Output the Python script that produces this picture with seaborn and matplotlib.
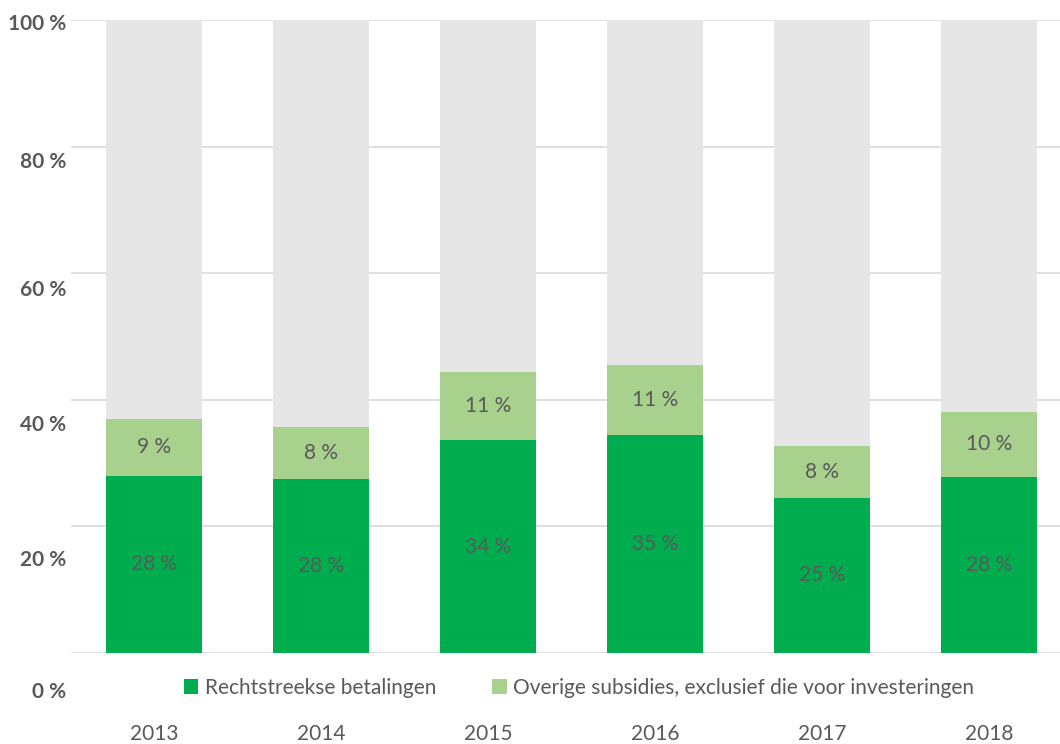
import matplotlib
matplotlib.use("Agg")
import matplotlib.pyplot as plt
import matplotlib.transforms as mtrans
import seaborn as sns
import pandas as pd
import numpy as np
from matplotlib.patches import Patch

years = ["2013", "2014", "2015", "2016", "2017", "2018"]
direct = [28.0, 27.5, 33.6, 34.4, 24.5, 27.8]
other = [9.0, 8.2, 10.8, 11.1, 8.2, 10.3]
direct_labels = ["28 %", "28 %", "34 %", "35 %", "25 %", "28 %"]
other_labels = ["9 %", "8 %", "11 %", "11 %", "8 %", "10 %"]
ytick_vals = [0, 20, 40, 60, 80, 100]
ytick_labels = ["0 %", "20 %", "40 %", "60 %", "80 %", "100 %"]
series_names = ["Rechtstreekse betalingen", "Overige subsidies, exclusief die voor investeringen"]

C_DARK = "#00AD4E"
C_LIGHT = "#A9D18E"
C_GREY = "#E6E6E6"
C_TEXT = "#595959"

sns.set_style("white")
plt.rcParams['font.family'] = ['Lato', 'DejaVu Sans']

df = pd.DataFrame({"year": years, "direct": direct, "other": other})
df["total"] = df["direct"] + df["other"]
df["full"] = 100.0

fig = plt.figure(figsize=(10.6, 7.44), dpi=100)
ax = fig.add_axes([70.5 / 1060, 91 / 744, (1060 - 70.5) / 1060, (653 - 20) / 744])

w = 0.575
kw = dict(width=w, ax=ax, saturation=1, linewidth=0, edgecolor="none")
sns.barplot(data=df, x="year", y="full", color=C_GREY, zorder=2, **kw)
sns.barplot(data=df, x="year", y="total", color=C_LIGHT, zorder=3, **kw)
sns.barplot(data=df, x="year", y="direct", color=C_DARK, zorder=4, **kw)

ax.set_xlim(-0.5, 5.5 - 12.5 / 167)
ax.set_ylim(0, 100)
ax.set_xlabel("")
ax.set_ylabel("")

FS = 15
ax.set_yticks(ytick_vals)
ax.set_yticklabels(ytick_labels, fontsize=FS, fontweight="bold", color=C_TEXT)
ax.yaxis.grid(True, color="#D9D9D9", linewidth=1.2, zorder=0)
ax.set_axisbelow(True)
ax.tick_params(axis="y", length=0, pad=3)
# shift y tick labels to match reference placement
offsets_px = [37, 32, 23, 15, 13, 2]
for lab, off in zip(ax.get_yticklabels(), offsets_px):
    lab.set_transform(lab.get_transform() + mtrans.ScaledTranslation(0, -off / 100, fig.dpi_scale_trans))

ax.tick_params(axis="x", length=0, pad=51, labelsize=FS, labelcolor=C_TEXT)

for s in ax.spines.values():
    s.set_visible(False)

for i in range(len(years)):
    ax.text(i, direct[i] / 2, direct_labels[i], ha="center", va="center",
            fontsize=FS, color=C_TEXT, zorder=6)
    ax.text(i, direct[i] + other[i] / 2, other_labels[i], ha="center", va="center",
            fontsize=FS, color=C_TEXT, zorder=6)

handles = [Patch(facecolor=C_DARK, edgecolor="none"), Patch(facecolor=C_LIGHT, edgecolor="none")]
fig.legend(handles, series_names, loc="center", bbox_to_anchor=(579 / 1060, 1 - 688 / 744),
           ncol=2, frameon=False, fontsize=FS, labelcolor=C_TEXT,
           handlelength=0.7, handleheight=0.7, handletextpad=0.3, columnspacing=2.7)

fig.savefig("out.png", dpi=100)
